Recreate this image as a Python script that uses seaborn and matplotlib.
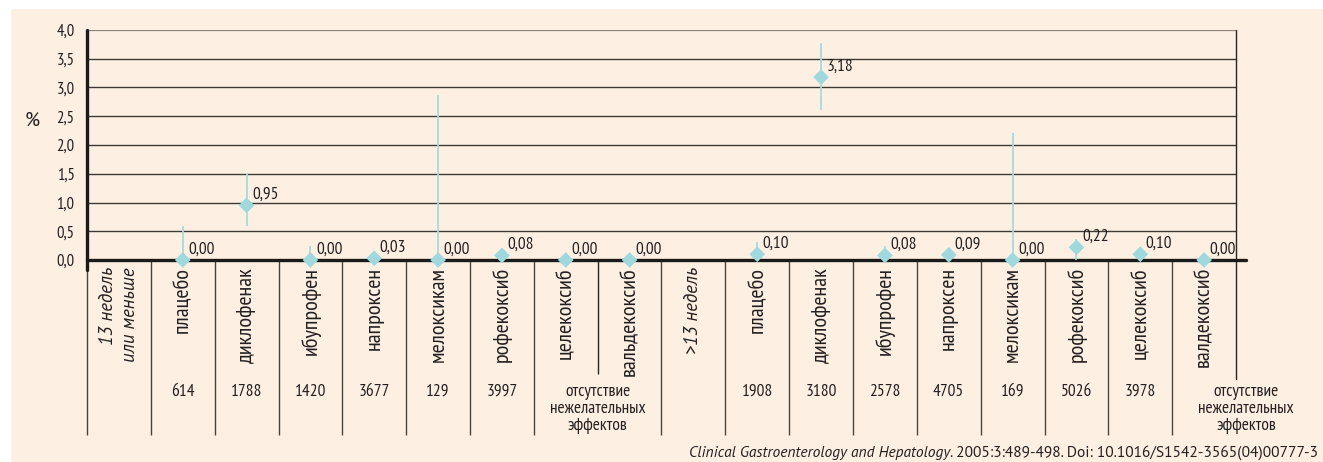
import numpy as np
import pandas as pd
import matplotlib
matplotlib.use("Agg")
import matplotlib.pyplot as plt
from matplotlib.patches import Rectangle
import seaborn as sns

# data
period1 = "13 недель\nили меньше"
period2 = ">13 недель"
drugs1 = ["плацебо", "диклофенак", "ибупрофен", "напроксен",
          "мелоксикам", "рофекоксиб", "целекоксиб", "вальдекоксиб"]
drugs2 = ["плацебо", "диклофенак", "ибупрофен", "напроксен",
          "мелоксикам", "рофекоксиб", "целекоксиб", "валдекоксиб"]
values1 = [0.00, 0.95, 0.00, 0.03, 0.00, 0.08, 0.00, 0.00]
values2 = [0.10, 3.18, 0.08, 0.09, 0.00, 0.22, 0.10, 0.00]
lower1 = [0.00, 0.59, 0.00, 0.00, 0.00, 0.00, 0.00, 0.00]
upper1 = [0.59, 1.51, 0.24, 0.03, 2.87, 0.20, 0.00, 0.00]
lower2 = [0.00, 2.60, 0.00, 0.00, 0.00, 0.00, 0.00, 0.00]
upper2 = [0.31, 3.77, 0.24, 0.09, 2.20, 0.36, 0.23, 0.00]
n1 = [614, 1788, 1420, 3677, 129, 3997, None, None]
n2 = [1908, 3180, 2578, 4705, 169, 5026, 3978, None]
no_effects = "отсутствие\nнежелательных\nэффектов"
yticks = [0.0, 0.5, 1.0, 1.5, 2.0, 2.5, 3.0, 3.5, 4.0]
source_it = "Clinical Gastroenterology and Hepatology"
source_rest = ". 2005:3:489-498. Doi: 10.1016/S1542-3565(04)00777-3"

# slot 0 = period label, slots 1..8 = drugs, slot 9 = period label, 10..17 = drugs
df = pd.DataFrame({
    "pos": list(range(1, 9)) + list(range(10, 18)),
    "drug": drugs1 + drugs2,
    "value": values1 + values2,
    "lo": lower1 + lower2,
    "hi": upper1 + upper2,
    "n": n1 + n2,
})

sns.set_style("white")
plt.rcParams["font.family"] = ["PT Sans Narrow", "DejaVu Sans"]
ital = ["PT Sans", "DejaVu Sans"]
txt = "#231f20"
peach = "#fdf0e3"
cyan = "#9fd8dd"

fig = plt.figure(figsize=(13.23, 4.62), dpi=100)
fig.patches.append(Rectangle((11 / 1323, 0), 1 - 11 / 1323, (462 - 9) / 462,
                             transform=fig.transFigure, facecolor=peach,
                             edgecolor="none", zorder=-5))
ax = fig.add_axes([87 / 1323, 202 / 462, 1149 / 1323, 230 / 462])
ax.set_facecolor("none")
ax.set_xlim(-0.5, 17.5)
ax.set_ylim(0, 4.0)

# grid
ax.set_yticks(yticks)
ax.set_yticklabels([f"{t:.1f}".replace(".", ",") for t in yticks],
                   fontsize=12, color=txt)
ax.tick_params(axis="y", length=0, pad=9)
ax.set_xticks([])
for t in yticks[1:]:
    c = "#8c8279" if t == 4.0 else "#3f3935"
    ax.axhline(t, color=c, lw=1.6 if t == 4.0 else 1.0, zorder=1)
for s in ["top", "right", "bottom", "left"]:
    ax.spines[s].set_visible(False)

def yf(p):
    # pixel row -> axes fraction (table area under the plot)
    return (260 - p) / 230

xt = ax.get_xaxis_transform()

# axes frame lines
ax.plot([-0.5, -0.5], [1.0, yf(270)], transform=xt, color="#1a1a1a", lw=2.4,
        clip_on=False, zorder=3)
ax.plot([-0.5, 17.66], [0, 0], color="#1a1a1a", lw=2.4, clip_on=False, zorder=3)
ax.plot([17.5, 17.5], [1.0, yf(379)], transform=xt, color="#2a2522", lw=1.0,
        clip_on=False, zorder=2)

# table separators
full = [k - 0.5 for k in range(0, 18) if k != 8]
ax.vlines(full, yf(260), yf(435), transform=xt, color="#4a433e", lw=1.0,
          clip_on=False)
ax.vlines([7.5], yf(260), yf(374), transform=xt, color="#2a2522", lw=1.0,
          clip_on=False)

# error bars and markers
ax.vlines(df["pos"], df["lo"], df["hi"], color="#a6dbe0", lw=1.3, zorder=4)
sns.scatterplot(data=df, x="pos", y="value", marker="D", s=64, color=cyan,
                edgecolor="none", ax=ax, zorder=5, clip_on=False, legend=False)
ax.set_xlabel("")
ax.set_ylabel("")
for _, r in df.iterrows():
    ax.annotate(f"{r['value']:.2f}".replace(".", ","), (r["pos"], r["value"]),
                xytext=(4, 7.5), textcoords="offset points", ha="left",
                va="center", fontsize=12.5, color=txt, zorder=6)

# category labels
for _, r in df.iterrows():
    ax.text(r["pos"], yf(267), r["drug"], transform=xt, rotation=90,
            ha="center", va="top", fontsize=16, color=txt)
    if pd.notna(r["n"]):
        ax.text(r["pos"], yf(392), f"{int(r['n'])}", transform=xt,
                ha="center", va="center", fontsize=12.5, color=txt)
ax.text(0, yf(267), period1, transform=xt, rotation=90, ha="center", va="top",
        fontsize=13.5, style="italic", family=ital, multialignment="right",
        color=txt, linespacing=1.25)
ax.text(9, yf(267), period2, transform=xt, rotation=90, ha="center", va="top",
        fontsize=13.5, style="italic", family=ital, color=txt)
for xc in [7.5, 17.66]:
    ax.text(xc, yf(409), no_effects, transform=xt, ha="center", va="center",
            fontsize=12.5, color=txt, linespacing=1.1)

# % label and source
fig.text(32 / 1323, 1 - 121 / 462, "%", fontsize=14, color=txt,
         family=ital, ha="center", va="center")
src = fig.text(1318 / 1323, 1 - 446 / 462, source_rest, fontsize=11.2,
               color=txt, ha="right", va="top", family=ital)
ax.annotate(source_it, xy=(0, 1), xycoords=src, ha="right", va="top",
            fontsize=11.2, color=txt, style="italic", family=ital,
            annotation_clip=False)

fig.savefig("out.png", dpi=100, facecolor="white")
